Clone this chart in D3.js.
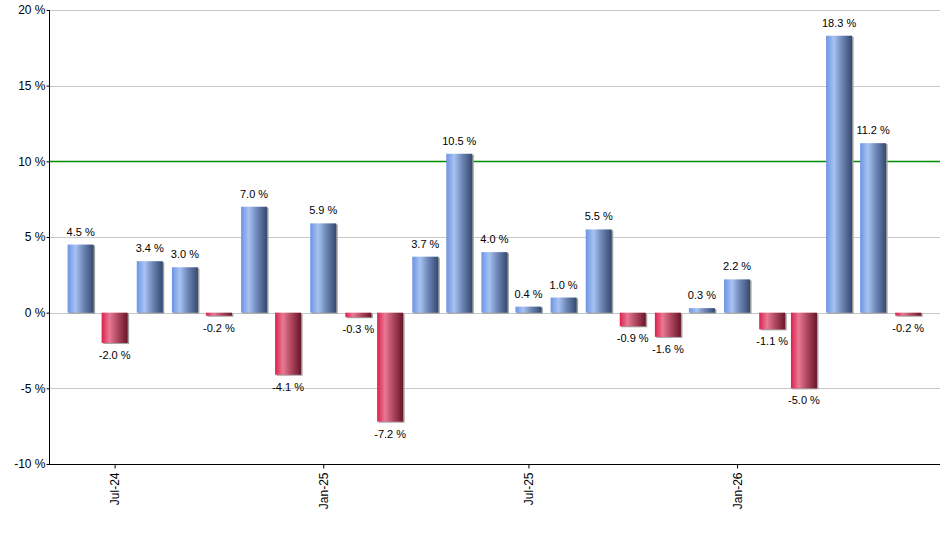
<!DOCTYPE html>
<html>
<head>
<meta charset="utf-8">
<script src="https://cdn.jsdelivr.net/npm/d3@7"></script>
<style>
  body { margin: 0; background: #fff; }
  text { font-family: "Liberation Sans", Arial, sans-serif; }
</style>
</head>
<body>
<svg id="chart" width="940" height="550"></svg>
<script>
// monthly returns, Jun-24 .. Jun-26
var months = ['2024-06','2024-07','2024-08','2024-09','2024-10','2024-11','2024-12',
              '2025-01','2025-02','2025-03','2025-04','2025-05','2025-06','2025-07',
              '2025-08','2025-09','2025-10','2025-11','2025-12','2026-01','2026-02',
              '2026-03','2026-04','2026-05','2026-06'];
var returns = [4.5, -2.0, 3.4, 3.0, -0.2, 7.0, -4.1, 5.9, -0.3, -7.2, 3.7, 10.5, 4.0,
               0.4, 1.0, 5.5, -0.9, -1.6, 0.3, 2.2, -1.1, -5.0, 18.3, 11.2, -0.2];
var yTicks = [-10, -5, 0, 5, 10, 15, 20];
var xTicks = ['2024-07', '2025-01', '2025-07', '2026-01'];
var refLine = 10;

var parse = d3.timeParse('%Y-%m');
var data = months.map(function(m, i) { return { date: parse(m), value: returns[i] }; });

var svg = d3.select('#chart');
var plotL = 50, plotR = 940, plotT = 10, plotB = 464;
var barW = 26;

var x = d3.scaleTime()
    .domain([new Date(2024, 4, 5), new Date(2026, 5, 29)])
    .range([plotL, plotR]);
var y = d3.scaleLinear().domain([-10, 20]).range([plotB, plotT]);

var defs = svg.append('defs');
function grad(id, stops) {
    var g = defs.append('linearGradient').attr('id', id)
        .attr('x1', '0%').attr('x2', '100%').attr('y1', '0%').attr('y2', '0%');
    stops.forEach(function(s) {
        g.append('stop').attr('offset', s[0]).attr('stop-color', s[1]);
    });
}
grad('gBlue', [['0%', '#6d94e2'], ['30%', '#a8c3f3'], ['60%', '#6f88b8'], ['100%', '#34496f']]);
grad('gRed', [['0%', '#dc1f4e'], ['30%', '#e87a93'], ['60%', '#b14a62'], ['100%', '#6a1529']]);

// grid
svg.append('g').selectAll('line').data(yTicks).enter().append('line')
    .attr('x1', plotL).attr('x2', plotR)
    .attr('y1', function(d) { return Math.round(y(d)) + 0.5; })
    .attr('y2', function(d) { return Math.round(y(d)) + 0.5; })
    .style('stroke', '#c8c8c8').style('stroke-width', 1);

// reference line (10 %), sits behind the bars
svg.append('line')
    .attr('x1', plotL).attr('x2', plotR)
    .attr('y1', Math.round(y(refLine)) + 0.5).attr('y2', Math.round(y(refLine)) + 0.5)
    .style('stroke', '#008a00').style('stroke-width', 1.5);

// bars with a light shadow
var bars = svg.append('g');
bars.selectAll('rect.shadow').data(data).enter().append('rect')
    .attr('class', 'shadow')
    .attr('x', function(d) { return x(d.date) - barW / 2 + 1.5; })
    .attr('y', function(d) { return Math.min(y(d.value), y(0)) + 1; })
    .attr('width', barW)
    .attr('height', function(d) { return Math.abs(y(d.value) - y(0)); })
    .style('fill', '#a0a0a0');
bars.selectAll('rect.bar').data(data).enter().append('rect')
    .attr('class', 'bar')
    .attr('x', function(d) { return x(d.date) - barW / 2; })
    .attr('y', function(d) { return Math.min(y(d.value), y(0)); })
    .attr('width', barW)
    .attr('height', function(d) { return Math.abs(y(d.value) - y(0)); })
    .style('fill', function(d) { return d.value >= 0 ? 'url(#gBlue)' : 'url(#gRed)'; });

// value labels
svg.append('g').selectAll('text').data(data).enter().append('text')
    .attr('x', function(d) { return x(d.date); })
    .attr('y', function(d) { return d.value >= 0 ? y(d.value) - 9 : y(d.value) + 16; })
    .attr('text-anchor', 'middle')
    .style('font-size', '11px')
    .style('fill', '#000')
    .text(function(d) { return d.value.toFixed(1) + ' %'; });

// y axis
var yAxis = svg.append('g').attr('transform', 'translate(' + (plotL - 0.5) + ',0)')
    .call(d3.axisLeft(y).tickValues(yTicks).tickSize(3)
        .tickFormat(function(d) { return d + ' %'; }));
yAxis.select('.domain').attr('d', 'M0,' + plotT + 'V' + plotB).style('stroke', '#000');
yAxis.selectAll('text').style('font-size', '12px').style('font-family', '"Liberation Sans", Arial, sans-serif')
    .attr('x', -4);

// x axis
var xAxis = svg.append('g').attr('transform', 'translate(0,' + (plotB + 0.5) + ')')
    .call(d3.axisBottom(x).tickValues(xTicks.map(parse)).tickSize(4)
        .tickFormat(d3.timeFormat('%b-%y')));
xAxis.select('.domain').attr('d', 'M' + (plotL - 1) + ',0H' + plotR).style('stroke', '#000');
xAxis.selectAll('text')
    .style('font-size', '12px').style('font-family', '"Liberation Sans", Arial, sans-serif')
    .attr('transform', 'rotate(-90)')
    .attr('text-anchor', 'end')
    .attr('x', -8).attr('y', 0).attr('dy', '0.35em');
</script>
</body>
</html>
